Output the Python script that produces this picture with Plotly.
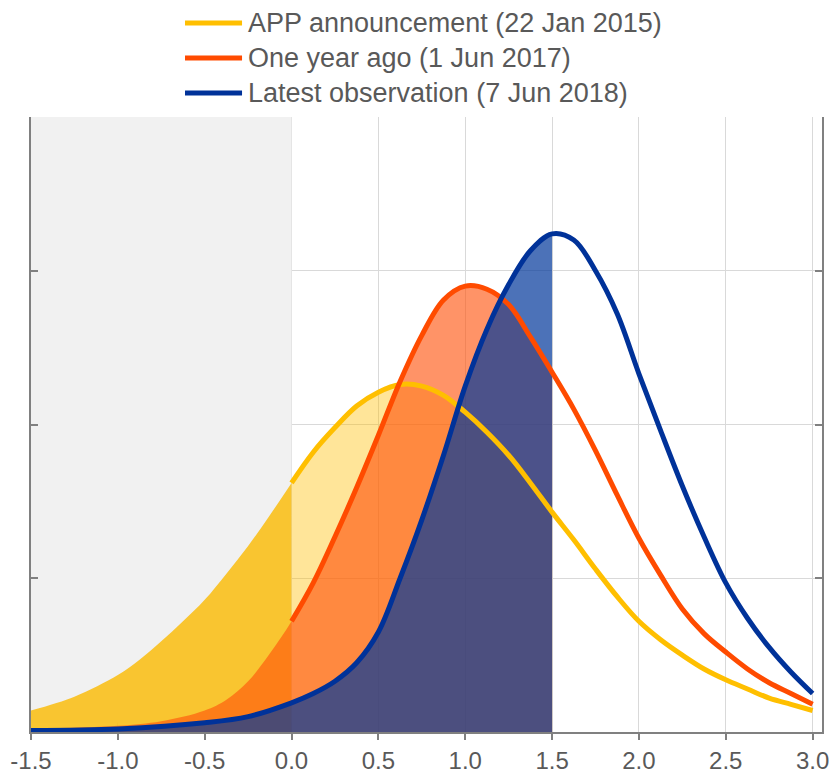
import plotly.graph_objects as go

# probability density of inflation expectations
app_x = [-1.5, -1.25, -1.0, -0.875, -0.75, -0.625, -0.5, -0.375, -0.25, -0.125,
         0.0, 0.125, 0.25, 0.375, 0.5, 0.625, 0.75, 0.875, 1.0, 1.125, 1.25,
         1.375, 1.5, 1.625, 1.75, 1.875, 2.0, 2.125, 2.25, 2.375, 2.5, 2.625,
         2.75, 2.875, 3.0]
app_y = [0.14, 0.23, 0.37, 0.47, 0.59, 0.72, 0.86, 1.03, 1.21, 1.41,
         1.62, 1.82, 1.98, 2.12, 2.21, 2.26, 2.25, 2.19, 2.08, 1.95, 1.80,
         1.62, 1.43, 1.25, 1.06, 0.88, 0.72, 0.60, 0.50, 0.41, 0.34, 0.28,
         0.22, 0.18, 0.14]

ago_x = [-1.5, -1.0, -0.75, -0.5, -0.375, -0.25, -0.125, 0.0, 0.125, 0.25,
         0.375, 0.5, 0.625, 0.75, 0.875, 1.0, 1.125, 1.25, 1.375, 1.5, 1.625,
         1.75, 1.875, 2.0, 2.125, 2.25, 2.375, 2.5, 2.625, 2.75, 2.875, 3.0]
ago_y = [0.02, 0.04, 0.07, 0.14, 0.21, 0.33, 0.51, 0.72, 0.97, 1.27,
         1.59, 1.93, 2.28, 2.58, 2.81, 2.90, 2.88, 2.78, 2.57, 2.34, 2.10,
         1.83, 1.54, 1.26, 1.02, 0.80, 0.64, 0.52, 0.41, 0.32, 0.25, 0.18]

new_x = [-1.5, -1.0, -0.5, -0.25, 0.0, 0.125, 0.25, 0.375, 0.5, 0.625, 0.75,
         0.875, 1.0, 1.125, 1.25, 1.375, 1.5, 1.625, 1.75, 1.875, 2.0, 2.125,
         2.25, 2.375, 2.5, 2.625, 2.75, 2.875, 3.0]
new_y = [0.01, 0.02, 0.06, 0.10, 0.19, 0.25, 0.33, 0.45, 0.65, 1.0, 1.38,
         1.80, 2.25, 2.62, 2.91, 3.13, 3.24, 3.20, 3.0, 2.72, 2.33, 1.96,
         1.60, 1.27, 0.97, 0.74, 0.55, 0.39, 0.25]

names = ["APP announcement (22 Jan 2015)",
         "One year ago (1 Jun 2017)",
         "Latest observation (7 Jun 2018)"]
x_ticks = [-1.5, -1.0, -0.5, 0.0, 0.5, 1.0, 1.5, 2.0, 2.5, 3.0]

YELLOW = "#FFBF00"
RED = "#FF4B00"
BLUE = "#003299"
TXT = "#595959"
AX = "#808080"

x_min, x_max = -1.5, 3.054


def part(xs, ys, lo, hi):
    pts = [(a, b) for a, b in zip(xs, ys) if lo <= a <= hi]
    return [p[0] for p in pts], [p[1] for p in pts]


fig = go.Figure()

# grey band for negative inflation
fig.add_trace(go.Scatter(x=[-1.56, 0, 0, -1.56], y=[0.06, 0.06, 4, 4],
                         mode="none", fill="toself", fillcolor="#f1f1f1",
                         hoverinfo="skip", showlegend=False))

# fills below 1.5 %
fx, fy = part(app_x, app_y, -1.5, 0.0)
fig.add_trace(go.Scatter(x=fx, y=fy, mode="none", fill="tozeroy",
                         fillcolor="rgba(249,190,20,0.88)", line_shape="spline",
                         hoverinfo="skip", showlegend=False))
fx, fy = part(app_x, app_y, 0.0, 1.5)
fig.add_trace(go.Scatter(x=fx, y=fy, mode="none", fill="tozeroy",
                         fillcolor="rgba(255,191,0,0.40)", line_shape="spline",
                         hoverinfo="skip", showlegend=False))
fx, fy = part(ago_x, ago_y, -1.5, 1.5)
fig.add_trace(go.Scatter(x=fx, y=fy, mode="none", fill="tozeroy",
                         fillcolor="rgba(255,80,10,0.62)", line_shape="spline",
                         hoverinfo="skip", showlegend=False))
fx, fy = part(new_x, new_y, -1.5, 1.5)
fig.add_trace(go.Scatter(x=fx, y=fy, mode="none", fill="tozeroy",
                         fillcolor="rgba(0,54,154,0.70)", line_shape="spline",
                         hoverinfo="skip", showlegend=False))

# lines
lx, ly = part(app_x, app_y, 0.0, 3.0)
fig.add_trace(go.Scatter(x=lx, y=ly, mode="lines", name=names[0],
                         line=dict(color=YELLOW, width=5, shape="spline"),
                         showlegend=False))
lx, ly = part(ago_x, ago_y, 0.0, 3.0)
fig.add_trace(go.Scatter(x=lx, y=ly, mode="lines", name=names[1],
                         line=dict(color=RED, width=5, shape="spline"),
                         showlegend=False))
fig.add_trace(go.Scatter(x=new_x, y=new_y, mode="lines", name=names[2],
                         line=dict(color=BLUE, width=5, shape="spline"),
                         showlegend=False))

# hand-made legend
rows = [1.153, 1.096, 1.039]
for nm, col, yy in zip(names, [YELLOW, RED, BLUE], rows):
    fig.add_shape(type="line", xref="paper", yref="paper",
                  x0=0.1947, x1=0.2668, y0=yy, y1=yy,
                  line=dict(color=col, width=5))
    fig.add_annotation(text=nm, xref="paper", yref="paper", x=0.2718, y=yy,
                       xanchor="left", yanchor="middle", showarrow=False,
                       font=dict(size=27, color=TXT))

# page body has an 8px margin, so the figure is drawn 8px smaller
fig.update_layout(
    width=829, height=765,
    margin=dict(l=23, r=15, t=109, b=41),
    paper_bgcolor="white", plot_bgcolor="white",
    font=dict(family="Liberation Sans, Arial, sans-serif", color=TXT),
)
fig.update_xaxes(range=[x_min, x_max], tickvals=x_ticks,
                 ticktext=[f"{v:.1f}" for v in x_ticks], automargin=False,
                 showgrid=True, gridcolor="#d9d9d9", gridwidth=1,
                 showline=True, linecolor=AX, linewidth=2,
                 ticks="outside", ticklen=6, tickcolor=AX, tickwidth=1.5,
                 tickfont=dict(size=24, color=TXT), zeroline=False,
                 layer="above traces")
fig.update_yaxes(range=[0, 4], dtick=1, showticklabels=False, automargin=False,
                 showgrid=True, gridcolor="#d9d9d9", gridwidth=1,
                 showline=True, linecolor=AX, linewidth=2, mirror="ticks",
                 ticks="inside", ticklen=7, tickcolor=AX, tickwidth=1.5,
                 zeroline=False)

fig.write_html("out.html")
